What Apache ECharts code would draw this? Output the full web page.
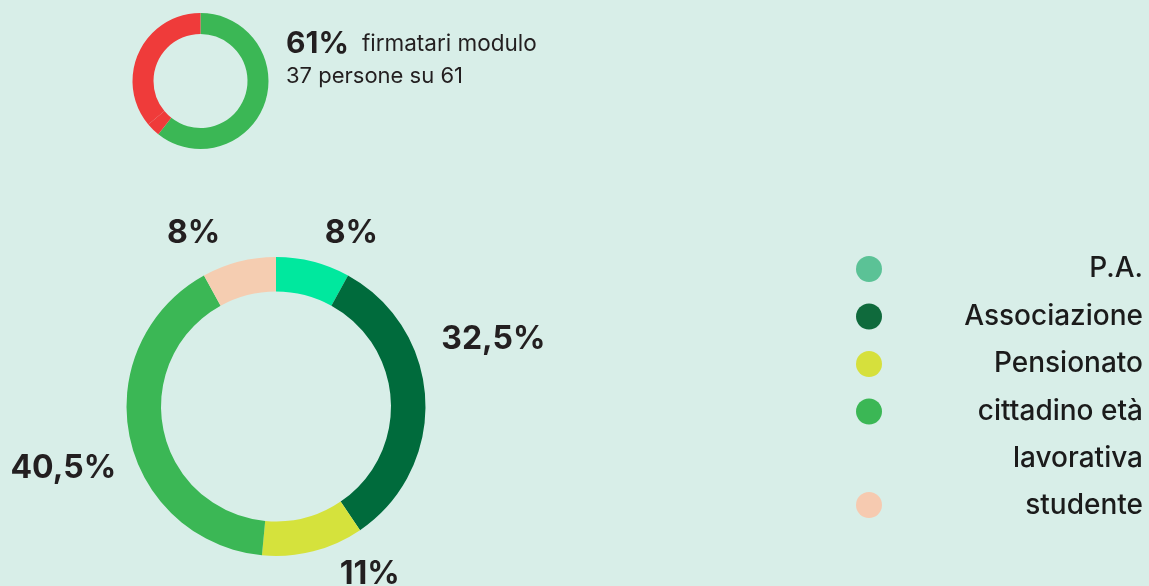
<!DOCTYPE html>
<html>
<head>
<meta charset="utf-8">
<script src="https://cdn.jsdelivr.net/npm/echarts@6/dist/echarts.min.js"></script>
<style>
  html, body { margin: 0; background: #d8eee8; }
  #main { width: 1149px; height: 586px; }
</style>
</head>
<body>
<div id="main"></div>
<script>
// modulo: firmatari su totale persone
const firmeNomi = ["firmatari", "n.d.", "non firmatari"];
const firmeValori = [37, 2, 22];

// profilo dei partecipanti (%)
const categorie = ["P.A.", "Associazione", "Pensionato", "cittadino età lavorativa", "studente"];
const percentuali = [8, 32.5, 11, 40.5, 8];

const coloriFette = ["#00e89e", "#006b3c", "#d5e23c", "#3bb755", "#f5cdb1"];
const coloriLegenda = ["#5bc296", "#0f6a3c", "#d6e03c", "#3bb755", "#f6cab0"];
const coloriFirme = ["#3bb755", "#ef3b3a", "#ef3b3a"];

const totale = firmeValori.reduce((a, b) => a + b, 0);
const quota = Math.round((firmeValori[0] / totale) * 100);

const fmtPerc = (v) => String(v).replace(".", ",") + "%";

let myChart = echarts.init(document.getElementById("main"));

// spostamenti delle etichette rispetto al layout "outside"
const spostaEtichette = [[0, -3], [-15, -59], [15, -2], [17, 26], [-7, -3]];

let option = {
  animation: false,
  backgroundColor: "#d8eee8",
  textStyle: { fontFamily: "Inter" },
  title: {
    left: 286,
    top: 27,
    padding: 0,
    text:
      "{p|" + quota + "%}{t|firmatari modulo}\n{s|" + firmeValori[0] + " persone su " + totale + "}",
    textStyle: {
      rich: {
        p: { fontSize: 30, fontWeight: "bold", color: "#231f20", lineHeight: 34, padding: [0, 13, 0, 0] },
        t: { fontSize: 22.5, fontWeight: "normal", color: "#231f20", lineHeight: 34 },
        s: { fontSize: 22, fontWeight: "normal", color: "#231f20", lineHeight: 30 },
      },
    },
  },
  legend: {
    orient: "vertical",
    right: 6,
    top: 255,
    padding: 0,
    itemGap: 19.5,
    icon: "circle",
    itemWidth: 26,
    itemHeight: 26,
    selectedMode: false,
    // l'icona resta centrata sul blocco di testo: la seconda riga di
    // "cittadino età lavorativa" va quindi in testa alla voce successiva
    data: categorie.map((c, i) => {
      const item = { name: c, itemStyle: { color: coloriLegenda[i] } };
      if (i === categorie.length - 1) item.textStyle = { padding: [0, 0, 45, 0] };
      return item;
    }),
    formatter: (name) => {
      if (name === categorie[3]) return "{n|cittadino età}";
      if (name === categorie[4]) return "{n|lavorativa}\n{n|" + name + "}";
      return "{n|" + name + "}";
    },
    textStyle: {
      rich: {
        n: {
          width: 256,
          align: "right",
          fontSize: 28,
          fontWeight: 500,
          color: "#1b1b1b",
          lineHeight: 47,
        },
      },
    },
  },
  series: [
    {
      type: "pie",
      silent: true,
      center: [200.5, 81],
      radius: [47, 68],
      label: { show: false },
      labelLine: { show: false },
      data: firmeNomi.map((n, i) => ({
        name: n,
        value: firmeValori[i],
        itemStyle: { color: coloriFirme[i] },
      })),
    },
    {
      type: "pie",
      silent: true,
      center: [276, 406.5],
      radius: [115, 149.5],
      avoidLabelOverlap: false,
      label: {
        show: true,
        position: "outside",
        distanceToLabelLine: 5,
        formatter: (p) => fmtPerc(p.value),
        fontSize: 32,
        fontWeight: "bold",
        color: "#231f20",
      },
      labelLine: { show: false, length: 26, length2: 0 },
      labelLayout: (params) => {
        const s = spostaEtichette[params.dataIndex];
        return { dx: s[0], dy: s[1] };
      },
      data: categorie.map((c, i) => ({
        name: c,
        value: percentuali[i],
        itemStyle: { color: coloriFette[i] },
      })),
    },
  ],
};
myChart.setOption(option);
</script>
</body>
</html>
